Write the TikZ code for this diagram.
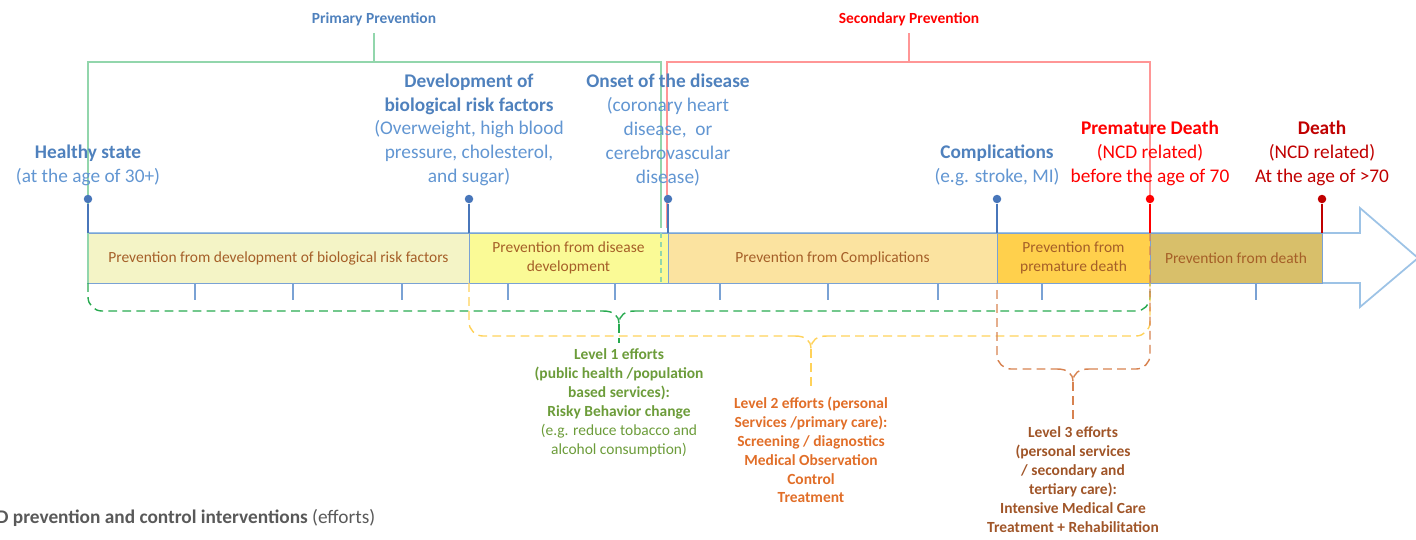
\documentclass[tikz,border=0pt]{standalone}
\usepackage{fontspec}
\setmainfont{Carlito}
\usetikzlibrary{positioning}

\definecolor{stageblue}{RGB}{79,129,189}
\definecolor{stagelight}{RGB}{98,150,210}
\definecolor{pinblue}{RGB}{72,118,186}
\definecolor{deathred}{RGB}{255,0,0}
\definecolor{darkred}{RGB}{192,0,0}
\definecolor{barline}{RGB}{157,195,230}
\definecolor{boxline}{RGB}{122,162,212}
\definecolor{boxtext}{RGB}{165,95,40}
\definecolor{fillA}{RGB}{244,244,198}
\definecolor{fillB}{RGB}{250,250,150}
\definecolor{fillC}{RGB}{251,227,160}
\definecolor{fillD}{RGB}{255,208,76}
\definecolor{fillE}{RGB}{216,191,106}
\definecolor{primgreen}{RGB}{146,214,172}
\definecolor{secred}{RGB}{255,150,150}
\definecolor{lvlonecol}{RGB}{40,170,80}
\definecolor{lvltwocol}{RGB}{255,210,90}
\definecolor{lvlthreecol}{RGB}{215,130,80}
\definecolor{lvlonetext}{RGB}{108,156,58}
\definecolor{lvltwotext}{RGB}{225,110,40}
\definecolor{lvlthreetext}{RGB}{160,85,40}
\definecolor{notegray}{RGB}{89,89,89}

\tikzset{
  stagedot/.style={circle, fill=#1, inner sep=0pt, minimum size=0.17cm},
  stage/.style={align=center, inner sep=0pt, font=\fontsize{11}{13.6}\selectfont},
  stagebox/.style={draw=boxline, line width=0.5pt, fill=#1, text=boxtext, align=center,
    inner sep=0pt, minimum height=1cm, font=\fontsize{8.8}{10.8}\selectfont},
  effort/.style={align=center, inner xsep=0pt, inner ysep=3pt, anchor=north,
    font=\fontsize{8.8}{10.8}\selectfont\bfseries, text=#1},
  effortbrace/.style={draw=#1, line width=0.8pt, dash pattern=on 5pt off 3pt},
  prevline/.style={draw=#1, line width=1.1pt},
  barmark/.style={draw=boxline, line width=0.6pt},
  prevlabel/.style={font=\fontsize{8.8}{10}\selectfont\bfseries, outer sep=1pt}
}

\begin{document}
\begin{tikzpicture}[x=0.02cm, y=-0.02cm]
  \useasboundingbox (0,0) rectangle (1416,539);

  % time arrow
  \draw[draw=barline, line width=1pt, fill=white]
    (88,233) -- (1360,233) -- (1360,208) -- (1418,258) -- (1360,307) -- (1360,283) -- (88,283) -- cycle;

  % stages on the arrow
  \foreach \a/\b/\col/\txt [count=\i] in {
      88/469/fillA/{Prevention from development of biological risk factors},
      469/668/fillB/{Prevention from disease\\development},
      668/997/fillC/{Prevention from Complications},
      997/1150/fillD/{Prevention from\\premature death},
      1150/1322/fillE/{Prevention from death}}
    \node[stagebox=\col, minimum width={(\b-\a)*0.02cm}] (box\i) at ({(\a+\b)/2},258) {\txt};

  % marks under the arrow
  \foreach \x in {195,293,402,508,615,720,828,938,1042,1256}
    \draw[barmark] (\x,283) -- (\x,300);

  % primary and secondary prevention
  \node[prevlabel, text=stageblue] (primary) at (374,19) {Primary Prevention};
  \node[prevlabel, text=deathred] (secondary) at (909,19) {Secondary Prevention};
  \coordinate (primary-join) at (374,62);
  \coordinate (secondary-join) at (909,62);
  \draw[prevline=primgreen] (88,283) -- (88,62) -- (661,62) -- (661,228);
  \draw[prevline=primgreen, dash pattern=on 3pt off 2pt] (661,233) -- (661,283);
  \draw[prevline=primgreen] (primary) -- (primary-join);
  \draw[prevline=secred] (667,228) -- (667,62) -- (1150,62) -- (1150,199);
  \draw[prevline=secred] (secondary) -- (secondary-join);

  % effort braces
  \foreach \l/\r/\lt/\rt/\h/\c/\col/\n in {
      88/1150/283/283/311/619/lvlonecol/one,
      469/1150/283/283/336/811/lvltwocol/two,
      997/1150/290/233/369/1073/lvlthreecol/three} {
    \coordinate (tip-\n) at (\c,\h+13);
    \draw[effortbrace=\col, rounded corners=8pt] (\l,\lt) |- (\c-16,\h);
    \draw[effortbrace=\col] (\c-16,\h) .. controls (\c-6,\h) and (\c,\h+4) .. (tip-\n)
      .. controls (\c,\h+4) and (\c+6,\h) .. (\c+16,\h);
    \draw[effortbrace=\col, rounded corners=8pt] (\c+16,\h) -| (\r,\rt);
  }

  % effort levels
  \node[effort=lvlonetext] (effort-one) at (619,343)
    {Level 1 efforts\\(public health /population\\based services):\\Risky Behavior change\\
     \mdseries(e.g. reduce tobacco and\\\mdseries alcohol consumption)};
  \node[effort=lvltwotext] (effort-two) at (811,391)
    {Level 2 efforts (personal\\Services /primary care):\\Screening / diagnostics\\Medical Observation\\Control\\Treatment};
  \node[effort=lvlthreetext] (effort-three) at (1073,421)
    {Level 3 efforts\\(personal services\\/ secondary and\\tertiary care):\\Intensive Medical Care\\Treatment + Rehabilitation};
  \draw[effortbrace=lvlonecol] (tip-one) -- (effort-one);
  \draw[effortbrace=lvltwocol] (tip-two) -- (effort-two);
  \draw[effortbrace=lvlthreecol] (tip-three) -- (effort-three);

  % milestones
  \foreach \x/\col/\n in {88/pinblue/healthy, 469/pinblue/risk, 668/pinblue/onset,
      997/pinblue/compl, 1150/deathred/early, 1322/darkred/death} {
    \coordinate (\n-bar) at (\x,233);
    \node[stagedot=\col] (\n) at (\x,199) {};
    \draw[\col, line width=0.7pt] (\n) -- (\n-bar);
  }

  \node[stage, text=stagelight, above=0.16cm of healthy] (healthy-label)
    {\textcolor{stageblue}{\bfseries Healthy state}\\(at the age of 30+)};
  \node[stage, text=stagelight, above=0.16cm of risk] (risk-label)
    {\textcolor{stageblue}{\bfseries Development of}\\\textcolor{stageblue}{\bfseries biological risk factors}\\
     (Overweight, high blood\\pressure, cholesterol,\\and sugar)};
  \node[stage, text=stagelight, above=0.16cm of onset] (onset-label)
    {\textcolor{stageblue}{\bfseries Onset of the disease}\\(coronary heart\\disease,\ \ or\\cerebrovascular\\disease)};
  \node[stage, text=stagelight, above=0.16cm of compl] (compl-label)
    {\textcolor{stageblue}{\bfseries Complications}\\(e.g. stroke, MI)};
  \node[stage, text=deathred, above=0.16cm of early] (early-label)
    {\bfseries Premature Death\\(NCD related)\\before the age of 70};
  \node[stage, text=darkred, above=0.16cm of death] (death-label)
    {\bfseries Death\\(NCD related)\\At the age of >70};

  % caption
  \node[anchor=west, inner sep=0pt, text=notegray, font=\fontsize{11}{13}\selectfont] (caption) at (-4,518)
    {\textbf{D prevention and control interventions} (efforts)};
\end{tikzpicture}
\end{document}
